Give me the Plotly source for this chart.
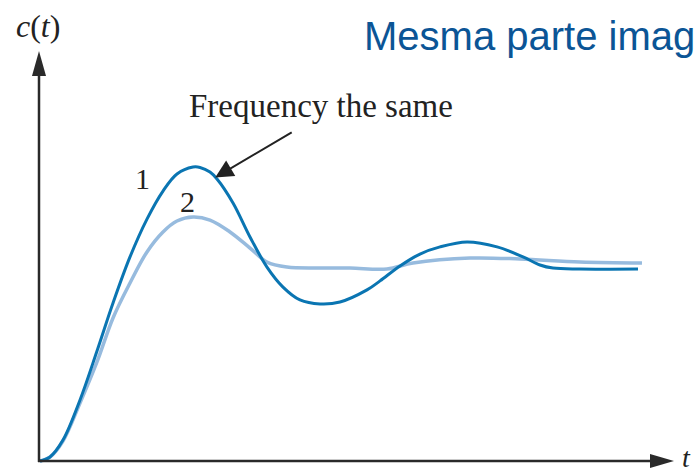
import plotly.graph_objects as go

# ---- data ----
t1 = [0, 0.167, 0.383, 0.667, 0.95, 1.217, 1.5, 1.783, 2.05, 2.283, 2.55, 2.667, 2.833,
      2.95, 3.217, 3.5, 3.783, 4.05, 4.333, 4.667, 5.0, 5.45, 5.667, 6.0, 6.333, 6.667, 7.117,
      7.617, 8.05, 8.333, 8.55, 9.0, 9.967]
c1 = [0, 0.021, 0.109, 0.318, 0.573, 0.823, 1.063, 1.260, 1.406, 1.495, 1.531, 1.529, 1.505,
      1.469, 1.344, 1.167, 1.010, 0.906, 0.839, 0.818, 0.828, 0.891, 0.938, 1.016, 1.078, 1.115, 1.141,
      1.115, 1.063, 1.021, 1.005, 1.000, 1.000]

t2 = [0, 0.167, 0.383, 0.667, 0.95, 1.217, 1.5, 1.783, 2.05, 2.283, 2.55, 2.833,
      3.167, 3.5, 3.783, 4.117, 4.617, 5.167, 5.783, 6.217, 7.167, 8.0, 9.0, 10.033]
c2 = [0, 0.021, 0.104, 0.302, 0.516, 0.745, 0.927, 1.089, 1.193, 1.250, 1.271, 1.255,
      1.193, 1.109, 1.036, 1.010, 1.005, 1.005, 1.000, 1.031, 1.057, 1.052, 1.036, 1.031]

curve_labels = ["1", "2"]
label_t = [1.7, 2.45]
label_c = [1.47, 1.35]

W, H = 695, 469
X0, XS = 40, 60.0      # pixel of t=0, pixels per unit t
Y0, YS = 461, 192.0    # pixel of c=0, pixels per unit c

def px(x):
    return x / W

def py(y):
    return 1 - y / H

fig = go.Figure()
fig.add_trace(go.Scatter(x=t2, y=c2, mode="lines",
                         line=dict(color="#97bbde", width=3.5, shape="spline", smoothing=1.0),
                         hoverinfo="skip"))
fig.add_trace(go.Scatter(x=t1, y=c1, mode="lines",
                         line=dict(color="#0a75b2", width=3, shape="spline", smoothing=1.0),
                         hoverinfo="skip"))

axis_col = "#2a2a2a"
shapes = [
    # y axis
    dict(type="line", xref="paper", yref="paper", x0=px(39), y0=py(462), x1=px(39), y1=py(70),
         line=dict(color=axis_col, width=2.5)),
    dict(type="path", xref="paper", yref="paper",
         path=f"M {px(39)} {py(51)} L {px(32)} {py(76)} L {px(46)} {py(76)} Z",
         fillcolor=axis_col, line=dict(width=0)),
    # x axis
    dict(type="line", xref="paper", yref="paper", x0=px(38), y0=py(461), x1=px(655), y1=py(461),
         line=dict(color=axis_col, width=2.5)),
    dict(type="path", xref="paper", yref="paper",
         path=f"M {px(674)} {py(461)} L {px(650)} {py(454)} L {px(650)} {py(468)} Z",
         fillcolor=axis_col, line=dict(width=0)),
]

serif = "Liberation Serif, Times New Roman, serif"
ann = [
    dict(xref="paper", yref="paper", x=px(38), y=py(26), text="<i>c</i>(<i>t</i>)",
         showarrow=False, font=dict(family=serif, size=32, color="#222"),
         xanchor="center", yanchor="middle"),
    dict(xref="paper", yref="paper", x=px(686), y=py(457), text="<i>t</i>",
         showarrow=False, font=dict(family=serif, size=28, color="#222"),
         xanchor="center", yanchor="middle"),
    dict(xref="paper", yref="paper", x=px(321), y=py(106), text="Frequency the same",
         showarrow=False, font=dict(family=serif, size=33, color="#222"),
         xanchor="center", yanchor="middle"),
    dict(xref="paper", yref="paper", x=px(362), y=py(36), text="Mesma parte imaginária",
         showarrow=False, font=dict(family="Liberation Sans, Arial, sans-serif", size=40, color="#0b5596"),
         xanchor="left", yanchor="middle"),
    # arrow pointing at curve 1
    dict(x=2.92, y=1.477, xref="x", yref="y", ax=78, ay=-46, axref="pixel", ayref="pixel",
         text="", showarrow=True, arrowhead=2, arrowsize=1.8, arrowwidth=2, arrowcolor="#222"),
]
for lab, tx, cy in zip(curve_labels, label_t, label_c):
    ann.append(dict(x=tx, y=cy, xref="x", yref="y", text=lab, showarrow=False,
                    font=dict(family=serif, size=30, color="#222"),
                    xanchor="center", yanchor="middle"))

fig.update_layout(
    width=W, height=H, margin=dict(l=0, r=0, t=0, b=0),
    paper_bgcolor="white", plot_bgcolor="white", showlegend=False,
    xaxis=dict(range=[-X0 / XS, (W - X0) / XS], visible=False, fixedrange=True),
    yaxis=dict(range=[(Y0 - H) / YS, Y0 / YS], visible=False, fixedrange=True),
    shapes=shapes, annotations=ann,
)

fig.write_html("out.html", config={"displayModeBar": False},
               post_script="document.body.style.margin='0';document.body.style.overflow='hidden';")
